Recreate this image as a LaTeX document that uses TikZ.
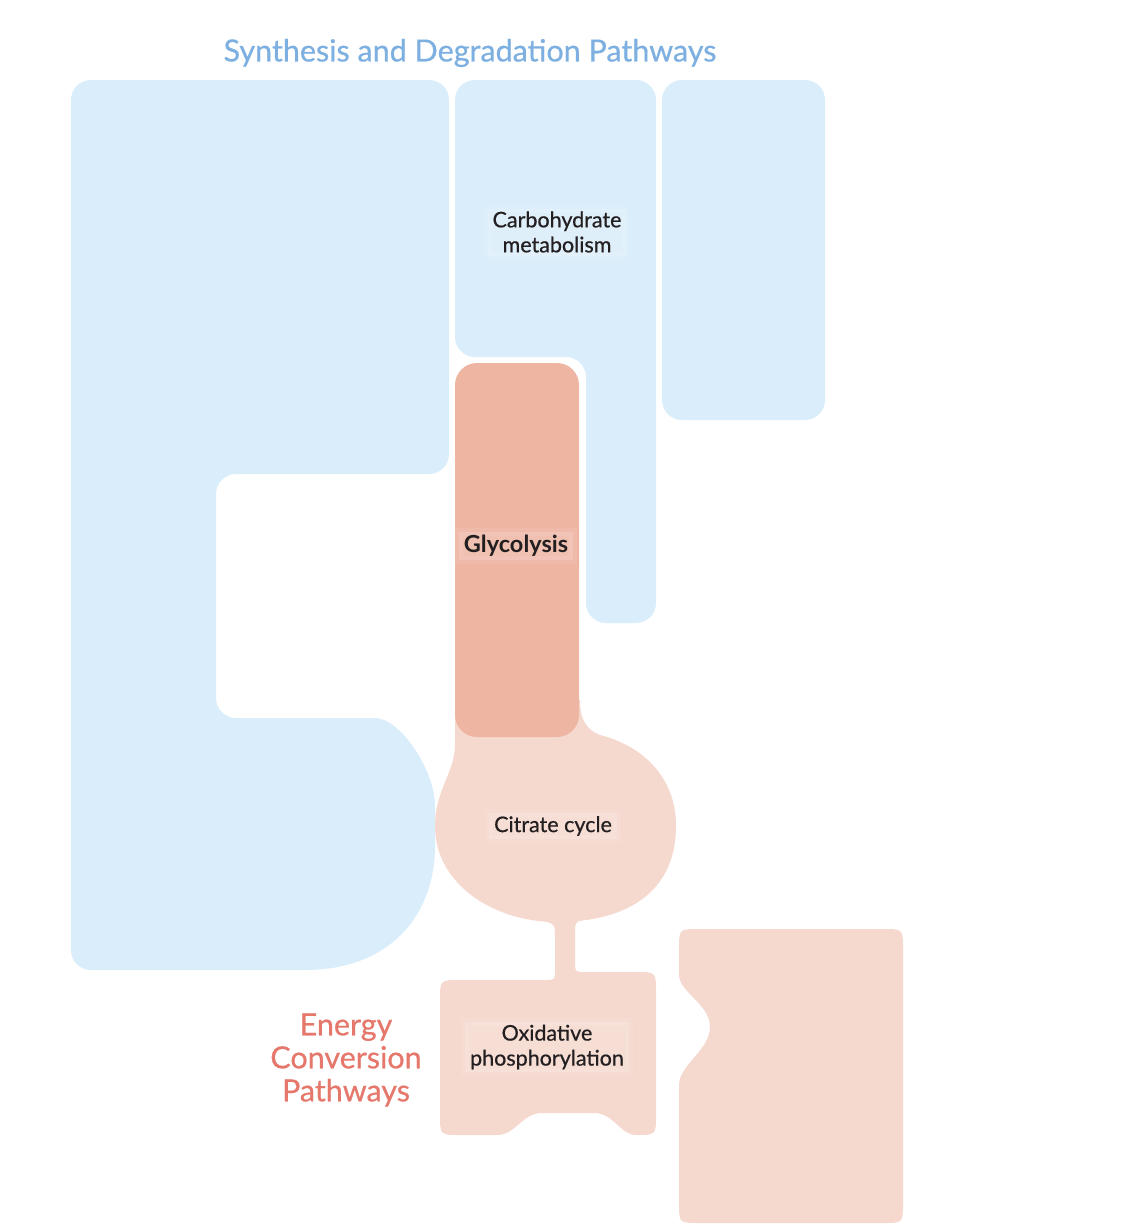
\documentclass[tikz,border=0pt]{standalone}
\usepackage{fontspec}
\setmainfont{Lato}[UprightFeatures={FakeBold=0.6}]
\usepackage{xcolor}
\usepackage{tikz}

\definecolor{synthblue}{HTML}{D9EDFA}
\definecolor{titleblue}{HTML}{7DB0E0}
\definecolor{energypink}{HTML}{F5D8CE}
\definecolor{glycosalmon}{HTML}{EEB5A3}
\definecolor{energyred}{HTML}{E5776B}
\definecolor{labeltext}{HTML}{231F20}

\begin{document}
\begin{tikzpicture}[
  x=1pt, y=-1pt,
  synth/.style={fill=synthblue, rounded corners=20pt},
  energy/.style={fill=energypink},
  pathlabel/.style={font=\fontsize{21.5}{25}\selectfont, text=labeltext, align=center,
    fill=white, fill opacity=0.16, draw=white, draw opacity=0.08, line width=8pt,
    text opacity=1, inner xsep=5pt, inner ysep=3pt},
  heading/.style={font=\fontsize{30.5}{33}\selectfont, align=center},
]
  \useasboundingbox (0,0) rectangle (1134,1232);

  % Synthesis shapes
  \fill[synth] (71,500) -- (71,970) -- (285,970)
    .. controls (390,970) and (435,915) .. (435,826)
    .. controls (435,770) and (400,718) .. (355,718)
    -- (216,718) -- (216,474) -- (449,474) -- (449,80) -- (71,80) -- cycle;
  \fill[synth] (455,200) -- (455,80) -- (656,80) -- (656,623) -- (586,623)
    -- (586,357) -- (455,357) -- cycle;
  \fill[synth] (662,80) rectangle (825,420);

  % Energy shapes
  \fill[energy] (455,700) -- (455,745)
    .. controls (455,772) and (435,790) .. (435,826)
    .. controls (435,885) and (495,922) .. (556,922)
    .. controls (630,922) and (676,890) .. (676,826)
    .. controls (676,775) and (640,745) .. (600,735)
    .. controls (588,730) and (580,722) .. (580,700) -- cycle;
  % stem and oxidative box
  \fill[energy] (440,1000) .. controls (440,980) .. (460,980) -- (545,980)
    .. controls (555,980) .. (555,970) -- (555,937) .. controls (555,924) .. (540,920)
    -- (540,890) -- (592,890) -- (592,918) .. controls (575,921) .. (575,934)
    -- (575,962) .. controls (575,972) .. (585,972) -- (636,972)
    .. controls (656,972) .. (656,992) -- (656,1115) .. controls (656,1135) .. (636,1135)
    .. controls (620,1135) and (614,1113) .. (594,1113) -- (542,1113)
    .. controls (522,1113) and (516,1135) .. (497,1135) -- (460,1135)
    .. controls (440,1135) .. (440,1115) -- cycle;
  \fill[energy] (679,949) .. controls (679,929) .. (699,929) -- (883,929)
    .. controls (903,929) .. (903,949) -- (903,1203) .. controls (903,1223) .. (883,1223)
    -- (699,1223) .. controls (679,1223) .. (679,1203) -- (679,1085)
    .. controls (679,1065) and (710,1050) .. (710,1027)
    .. controls (710,1004) and (679,992) .. (679,975) -- cycle;
  \fill[fill=glycosalmon, rounded corners=22pt] (455,363) rectangle (579,737);

  % Labels
  \node[heading, text=titleblue] (synthtitle) at (470,53) {Synthesis and Degradation Pathways};
  \node[heading, text=energyred] (energytitle) at (346,1060) {Energy\\Conversion\\Pathways};
  \node[pathlabel] (carb) at (557,232) {Carbohydrate\\metabolism};
  \node[pathlabel, font=\fontsize{23.5}{26}\selectfont\bfseries] (glyco) at (516,546) {Glycolysis};
  \node[pathlabel] (citrate) at (553,826) {Citrate cycle};
  \node[pathlabel] (oxphos) at (547,1047) {Oxidative\\phosphorylation};
\end{tikzpicture}
\end{document}
